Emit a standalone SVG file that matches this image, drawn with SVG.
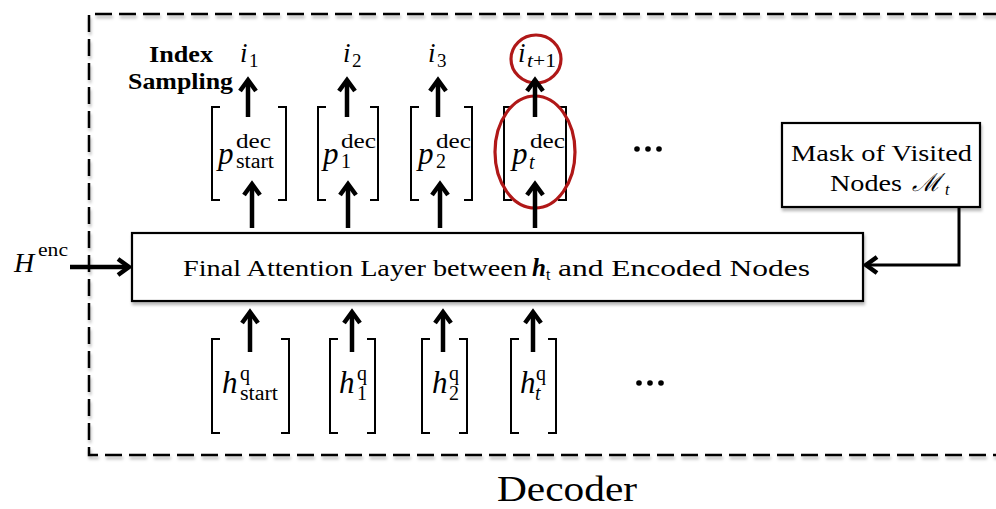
<svg xmlns="http://www.w3.org/2000/svg" width="996" height="509" viewBox="0 0 996 509">
  <defs>
    <filter id="shadow" x="-5%" y="-5%" width="110%" height="120%">
      <feDropShadow dx="1" dy="3" stdDeviation="1.6" flood-color="#000" flood-opacity="0.28"/>
    </filter>
    <marker id="head" markerUnits="userSpaceOnUse" viewBox="-18 -12 22 24" refX="0" refY="0" markerWidth="22" markerHeight="24" orient="auto" overflow="visible">
      <path d="M -11 -8 L 0 0 L -11 8" fill="none" stroke="#000" stroke-width="4.5" stroke-linejoin="miter" stroke-linecap="butt"/>
    </marker>
  </defs>
  <style>
    text { font-family: "Liberation Serif", "Times New Roman", serif; fill: #000; }
    .it { font-style: italic; }
    .bold { font-weight: bold; }
    .frame { fill: none; stroke: #000; stroke-width: 2.5; stroke-dasharray: 17 7; }
    .box { fill: #fff; stroke: #000; stroke-width: 2.2; }
    .bracket { fill: none; stroke: #000; stroke-width: 2; }
    .arrow { fill: none; stroke: #000; stroke-width: 4.5; marker-end: url(#head); }
    .thin { fill: none; stroke: #000; stroke-width: 3; marker-end: url(#head); }
    .hl { fill: none; stroke: #b01818; stroke-width: 3.2; }
    .base { font-size: 31px; font-style: italic; }
    .scr { font-size: 20px; }
  </style>

  <rect width="996" height="509" fill="#fff"/>

  <!-- decoder frame (open to the right) -->
  <g id="decoder-frame" filter="url(#shadow)">
    <path class="frame" d="M 1000 14 H 89 V 455 H 1000"/>
  </g>
  <text x="567" y="501" font-size="36" text-anchor="middle" textLength="140" lengthAdjust="spacingAndGlyphs">Decoder</text>

  <!-- final attention layer -->
  <g id="attention-layer" filter="url(#shadow)">
    <rect class="box" x="132" y="233" width="731" height="68"/>
  </g>
  <g id="attention-label">
    <text x="183" y="276" font-size="24" textLength="344" lengthAdjust="spacingAndGlyphs">Final Attention Layer between</text>
    <text x="532" y="276" font-size="25" class="it bold">h</text>
    <text x="546" y="280" font-size="16">t</text>
    <text x="558" y="276" font-size="24" textLength="252" lengthAdjust="spacingAndGlyphs">and Encoded Nodes</text>
  </g>

  <!-- mask box -->
  <g id="mask" filter="url(#shadow)">
    <rect class="box" x="782" y="123" width="198" height="84"/>
  </g>
  <g id="mask-label">
    <text x="791" y="161" font-size="24" textLength="181" lengthAdjust="spacingAndGlyphs">Mask of Visited</text>
    <text x="830" y="191" font-size="24" textLength="72" lengthAdjust="spacingAndGlyphs">Nodes</text>
    <text x="912" y="191" font-size="25" class="it">ℳ</text>
    <text x="945" y="195" font-size="16" class="it">t</text>
  </g>

  <!-- encoder input -->
  <g id="h-enc">
    <text x="14" y="272" font-size="28" class="it">H</text>
    <text x="38" y="256" font-size="19" textLength="30" lengthAdjust="spacingAndGlyphs">enc</text>
  </g>

  <!-- index sampling label -->
  <g id="index-sampling">
    <text x="149" y="62" font-size="23" class="bold" textLength="64" lengthAdjust="spacingAndGlyphs">Index</text>
    <text x="128" y="89" font-size="23" class="bold" textLength="105" lengthAdjust="spacingAndGlyphs">Sampling</text>
  </g>

  <!-- sampled indices -->
  <g id="i1"><text x="240" y="62" font-size="27" class="it">i</text><text x="249" y="67" font-size="19">1</text></g>
  <g id="i2"><text x="343" y="62" font-size="27" class="it">i</text><text x="352" y="67" font-size="19">2</text></g>
  <g id="i3"><text x="428" y="62" font-size="27" class="it">i</text><text x="437" y="67" font-size="19">3</text></g>
  <g id="it1"><text x="518" y="62" font-size="27" class="it">i</text><text x="527" y="67" font-size="19" textLength="29" lengthAdjust="spacingAndGlyphs"><tspan font-style="italic">t</tspan>+1</text></g>

  <!-- decoder probability vectors -->
  <g id="p-start">
    <path class="bracket" d="M 220 107 H 212 V 200 H 220 M 278 107 H 286 V 200 H 278"/>
    <text x="218" y="164" class="base">p</text>
    <text x="236" y="148" class="scr" textLength="35" lengthAdjust="spacingAndGlyphs">dec</text>
    <text x="236" y="168" class="scr" textLength="38" lengthAdjust="spacingAndGlyphs">start</text>
  </g>
  <g id="p-1">
    <path class="bracket" d="M 326 107 H 318 V 200 H 326 M 370 107 H 378 V 200 H 370"/>
    <text x="323" y="164" class="base">p</text>
    <text x="341" y="148" class="scr" textLength="35" lengthAdjust="spacingAndGlyphs">dec</text>
    <text x="341" y="168" class="scr">1</text>
  </g>
  <g id="p-2">
    <path class="bracket" d="M 419 107 H 411 V 200 H 419 M 464 107 H 472 V 200 H 464"/>
    <text x="418" y="164" class="base">p</text>
    <text x="436" y="148" class="scr" textLength="35" lengthAdjust="spacingAndGlyphs">dec</text>
    <text x="436" y="168" class="scr">2</text>
  </g>
  <g id="p-t">
    <path class="bracket" d="M 512 107 H 504 V 200 H 512 M 558 107 H 566 V 200 H 558"/>
    <text x="512" y="164" class="base">p</text>
    <text x="530" y="148" class="scr" textLength="35" lengthAdjust="spacingAndGlyphs">dec</text>
    <text x="529" y="169" class="scr it">t</text>
  </g>
  <g id="p-more">
    <circle cx="637" cy="149" r="2.8"/><circle cx="648" cy="149" r="2.8"/><circle cx="659" cy="149" r="2.8"/>
  </g>

  <!-- query vectors -->
  <g id="h-start">
    <path class="bracket" d="M 220 339 H 212 V 433 H 220 M 281 339 H 289 V 433 H 281"/>
    <text x="222" y="393" class="base">h</text>
    <text x="240" y="380" class="scr">q</text>
    <text x="240" y="400" class="scr" textLength="38" lengthAdjust="spacingAndGlyphs">start</text>
  </g>
  <g id="h-1">
    <path class="bracket" d="M 338 339 H 330 V 433 H 338 M 367 339 H 375 V 433 H 367"/>
    <text x="339" y="393" class="base">h</text>
    <text x="357" y="380" class="scr">q</text>
    <text x="357" y="400" class="scr">1</text>
  </g>
  <g id="h-2">
    <path class="bracket" d="M 430 339 H 422 V 433 H 430 M 459 339 H 467 V 433 H 459"/>
    <text x="432" y="393" class="base">h</text>
    <text x="449" y="380" class="scr">q</text>
    <text x="449" y="400" class="scr">2</text>
  </g>
  <g id="h-t">
    <path class="bracket" d="M 519 339 H 511 V 433 H 519 M 548 339 H 556 V 433 H 548"/>
    <text x="520" y="393" class="base">h</text>
    <text x="536" y="380" class="scr">q</text>
    <text x="535" y="400" class="scr it">t</text>
  </g>
  <g id="h-more">
    <circle cx="639" cy="383" r="2.8"/><circle cx="650" cy="383" r="2.8"/><circle cx="661" cy="383" r="2.8"/>
  </g>

  <!-- highlight of the current step -->
  <g id="highlight">
    <ellipse class="hl" cx="535" cy="152" rx="40" ry="56"/>
    <ellipse class="hl" cx="536" cy="59" rx="25" ry="24"/>
  </g>

  <!-- connectors -->
  <g id="connectors">
    <line class="arrow" x1="70" y1="267" x2="129" y2="267"/>
    <polyline class="thin" points="959,207 959,265 866,265"/>

    <line class="arrow" x1="250" y1="352" x2="250" y2="312"/>
    <line class="arrow" x1="352" y1="352" x2="352" y2="312"/>
    <line class="arrow" x1="443" y1="352" x2="443" y2="312"/>
    <line class="arrow" x1="533" y1="352" x2="533" y2="312"/>

    <line class="arrow" x1="252" y1="228" x2="252" y2="184"/>
    <line class="arrow" x1="348" y1="228" x2="348" y2="184"/>
    <line class="arrow" x1="440" y1="228" x2="440" y2="184"/>
    <line class="arrow" x1="535" y1="228" x2="535" y2="184"/>

    <line class="arrow" x1="248" y1="117" x2="248" y2="80"/>
    <line class="arrow" x1="347" y1="117" x2="347" y2="80"/>
    <line class="arrow" x1="438" y1="117" x2="438" y2="80"/>
    <line class="arrow" x1="535" y1="117" x2="535" y2="80"/>
  </g>
</svg>
